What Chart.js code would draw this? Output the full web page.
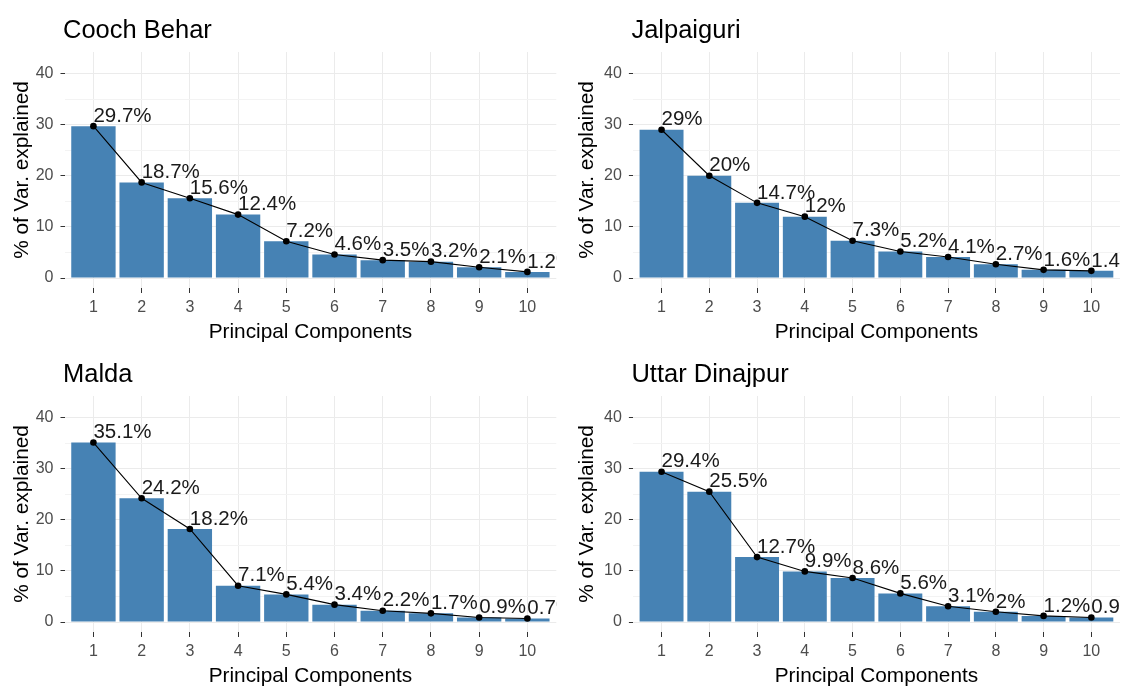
<!DOCTYPE html>
<html>
<head>
<meta charset="utf-8">
<title>Scree plots by district</title>
<script src="https://cdn.jsdelivr.net/npm/chart.js@4.4.0/dist/chart.umd.min.js"></script>
<style>
  html, body { margin: 0; padding: 0; background: #ffffff; overflow: hidden; width: 1123px; height: 687px; }
  .panel { position: absolute; }
  .panel canvas { display: block; }
</style>
</head>
<body>
<div class="panel" style="left:0px;top:0px;"><canvas id="c0" width="561" height="344"></canvas></div>
<div class="panel" style="left:561px;top:0px;"><canvas id="c1" width="563" height="344"></canvas></div>
<div class="panel" style="left:0px;top:344px;"><canvas id="c2" width="561" height="344"></canvas></div>
<div class="panel" style="left:561px;top:344px;"><canvas id="c3" width="563" height="344"></canvas></div>

<script>
// ---- data ----
const components = [1, 2, 3, 4, 5, 6, 7, 8, 9, 10];
const districts = ['Cooch Behar', 'Jalpaiguri', 'Malda', 'Uttar Dinajpur'];
const coochBehar    = [29.7, 18.7, 15.6, 12.4, 7.2, 4.6, 3.5, 3.2, 2.1, 1.2];
const jalpaiguri    = [29, 20, 14.7, 12, 7.3, 5.2, 4.1, 2.7, 1.6, 1.4];
const malda         = [35.1, 24.2, 18.2, 7.1, 5.4, 3.4, 2.2, 1.7, 0.9, 0.7];
const uttarDinajpur = [29.4, 25.5, 12.7, 9.9, 8.6, 5.6, 3.1, 2, 1.2, 0.9];
const yMajorTicks = [0, 10, 20, 30, 40];
const yMinorTicks = [5, 15, 25, 35];
const xAxisTitle = 'Principal Components';
const yAxisTitle = '% of Var. explained';

// ---- panel layout (canvas-relative) ----
const layouts = [
  { canvas: 'c0', series: coochBehar,    yAxisWidth: 64.5, padRight: 4.7, yTitleX: 28.3 },
  { canvas: 'c1', series: jalpaiguri,    yAxisWidth: 71.9, padRight: 0,   yTitleX: 32.3 },
  { canvas: 'c2', series: malda,         yAxisWidth: 64.5, padRight: 4.7, yTitleX: 28.3 },
  { canvas: 'c3', series: uttarDinajpur, yAxisWidth: 71.9, padRight: 0,   yTitleX: 32.3 }
];

const FONT = '"Liberation Sans", Arial, Helvetica, sans-serif';
const BAR_FILL = '#4682B4';
const GRID_MAJOR = '#EBEBEB';
const GRID_MINOR = '#F3F3F3';
const TICK_MARK = '#333333';
const TICK_TEXT = '#4D4D4D';

// percentage labels next to each point, clipped to the panel
const pointLabels = {
  id: 'pointLabels',
  afterDatasetsDraw(chart) {
    const ctx = chart.ctx;
    const area = chart.chartArea;
    const meta = chart.getDatasetMeta(1);
    const values = chart.data.datasets[1].data;
    ctx.save();
    ctx.beginPath();
    ctx.rect(area.left, area.top, area.right - area.left, area.bottom - area.top);
    ctx.clip();
    ctx.fillStyle = '#1a1a1a';
    ctx.font = '20.5px ' + FONT;
    ctx.textAlign = 'left';
    ctx.textBaseline = 'alphabetic';
    meta.data.forEach((pt, i) => {
      ctx.fillText(values[i].y + '%', pt.x, pt.y - 4.3);
    });
    ctx.restore();
  }
};

// panel title and axis titles
const panelText = {
  id: 'panelText',
  afterDraw(chart, args, opts) {
    const ctx = chart.ctx;
    const area = chart.chartArea;
    ctx.save();
    ctx.fillStyle = '#000000';
    ctx.textBaseline = 'alphabetic';

    ctx.font = '25.5px ' + FONT;
    ctx.textAlign = 'left';
    ctx.fillText(opts.title, area.left - 1.5, 38);

    ctx.font = '20.8px ' + FONT;
    ctx.textAlign = 'center';
    ctx.fillText(xAxisTitle, (area.left + area.right) / 2, 337.5);

    ctx.translate(opts.yTitleX, (area.top + area.bottom) / 2);
    ctx.rotate(-Math.PI / 2);
    ctx.fillText(yAxisTitle, 0, 0);
    ctx.restore();
  }
};

layouts.forEach((lay, k) => {
  const points = components.map((c, i) => ({ x: c, y: lay.series[i] }));
  const yTickValues = yMajorTicks.concat(yMinorTicks).sort((a, b) => a - b);

  new Chart(document.getElementById(lay.canvas), {
    type: 'bar',
    data: {
      datasets: [
        {
          type: 'bar',
          data: points,
          backgroundColor: BAR_FILL,
          borderWidth: 0,
          barPercentage: 0.92,
          categoryPercentage: 1,
          order: 2
        },
        {
          type: 'line',
          data: points,
          borderColor: '#000000',
          borderWidth: 1.1,
          pointRadius: 3.3,
          pointBackgroundColor: '#000000',
          pointBorderWidth: 0,
          tension: 0,
          fill: false,
          order: 1
        }
      ]
    },
    options: {
      responsive: false,
      animation: false,
      events: [],
      layout: { padding: { top: 52, left: 0, right: lay.padRight, bottom: 0 } },
      plugins: {
        legend: { display: false },
        tooltip: { enabled: false },
        panelText: { title: districts[k], yTitleX: lay.yTitleX }
      },
      scales: {
        x: {
          type: 'linear',
          min: 0.4,
          max: 10.6,
          offset: false,
          border: { display: false },
          grid: {
            offset: false,
            color: GRID_MAJOR,
            lineWidth: 1,
            tickColor: TICK_MARK,
            tickLength: 5,
            drawTicks: true
          },
          ticks: {
            autoSkip: false,
            maxRotation: 0,
            padding: 5,
            color: TICK_TEXT,
            font: { family: FONT, size: 16 },
            callback: (v) => String(v)
          },
          afterBuildTicks: (scale) => { scale.ticks = components.map(v => ({ value: v })); },
          afterFit: (scale) => { scale.height = 56; }
        },
        y: {
          type: 'linear',
          min: -1.95,
          max: 44.2,
          border: { display: false },
          grid: {
            offset: false,
            color: (c) => (c.tick && c.tick.value % 10 === 0 ? GRID_MAJOR : GRID_MINOR),
            lineWidth: 1,
            tickColor: (c) => (c.tick && c.tick.value % 10 === 0 ? TICK_MARK : 'rgba(0,0,0,0)'),
            tickLength: 4,
            drawTicks: true
          },
          ticks: {
            autoSkip: false,
            padding: 7,
            color: TICK_TEXT,
            font: { family: FONT, size: 16 },
            callback: (v) => (yMajorTicks.includes(v) ? String(v) : '')
          },
          afterBuildTicks: (scale) => { scale.ticks = yTickValues.map(v => ({ value: v })); },
          afterFit: (scale) => { scale.width = lay.yAxisWidth; }
        }
      }
    },
    plugins: [pointLabels, panelText]
  });
});
</script>
</body>
</html>
